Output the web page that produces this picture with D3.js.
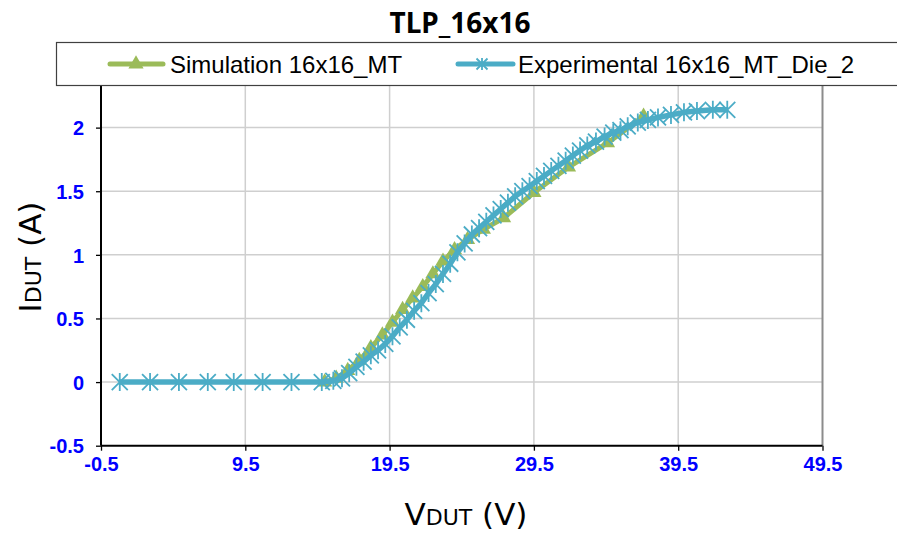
<!DOCTYPE html>
<html>
<head>
<meta charset="utf-8">
<script src="https://cdn.jsdelivr.net/npm/d3@7"></script>
<style>
  body { margin: 0; background: #fff; }
  svg { display: block; }
</style>
</head>
<body>
<div id="chart"></div>
<script>
// values
var simV = [15.0, 15.8, 16.6, 17.4, 18.2, 19.0, 19.7, 20.4, 21.1, 21.8, 22.5, 23.2, 24.0, 24.9, 26.0, 27.4, 29.5, 31.9, 34.6, 37.1];
var simI = [0, 0.03, 0.09, 0.17, 0.27, 0.37, 0.47, 0.57, 0.66, 0.75, 0.85, 0.95, 1.04, 1.12, 1.20, 1.29, 1.49, 1.69, 1.88, 2.09];

var expV = [0.8, 2.9, 4.9, 6.9, 8.7, 10.7, 12.7, 14.8,
            15.6, 16.2, 16.7, 17.2, 17.7, 18.2, 18.7, 19.2, 19.7, 20.2, 20.7, 21.2, 21.7, 22.2, 22.7, 23.2, 23.7,
            24.2, 24.7, 25.2, 25.7, 26.2, 26.7, 27.2, 27.7, 28.2, 28.7, 29.2, 29.7, 30.2, 30.7, 31.2, 31.7,
            32.2, 32.7, 33.2, 33.8, 34.4, 35.0, 35.5, 36.0, 36.7, 37.4, 38.1, 39.0, 39.9, 40.8, 41.9, 42.9];
var expI = [0, 0, 0, 0, 0, 0, 0, 0,
            0.01, 0.03, 0.07, 0.12, 0.16, 0.21, 0.25, 0.30, 0.36, 0.43, 0.49, 0.56, 0.62, 0.70, 0.77, 0.85, 0.93,
            1.02, 1.09, 1.16, 1.21, 1.26, 1.31, 1.36, 1.41, 1.46, 1.50, 1.54, 1.58, 1.62, 1.66, 1.70, 1.74,
            1.78, 1.82, 1.86, 1.89, 1.93, 1.96, 1.98, 2.01, 2.04, 2.06, 2.08, 2.10, 2.12, 2.13, 2.14, 2.14];

var xTicks = [-0.5, 9.5, 19.5, 29.5, 39.5, 49.5];
var yTicks = [-0.5, 0, 0.5, 1, 1.5, 2, 2.5];

var simColor = "#9BBB59";
var expColor = "#4BACC6";

var w = 897, h = 534;

var svg = d3.select("#chart").append("svg")
  .attr("width", w)
  .attr("height", h);

var xScale = d3.scaleLinear().domain([-0.5, 49.5]).range([101, 822.5]);
var yScale = d3.scaleLinear().domain([-0.5, 2.5]).range([445.7, 64]);

// gridlines
svg.append("g")
  .selectAll("line")
  .data(xTicks.slice(1, -1))
  .enter().append("line")
  .attr("x1", function(d) { return xScale(d); })
  .attr("x2", function(d) { return xScale(d); })
  .attr("y1", yScale(2.5))
  .attr("y2", yScale(-0.5))
  .attr("stroke", "#cfcfcf")
  .attr("stroke-width", 1.5);

svg.append("g")
  .selectAll("line")
  .data(yTicks.slice(1))
  .enter().append("line")
  .attr("x1", xScale(-0.5))
  .attr("x2", xScale(49.5))
  .attr("y1", function(d) { return yScale(d); })
  .attr("y2", function(d) { return yScale(d); })
  .attr("stroke", "#cfcfcf")
  .attr("stroke-width", 1.5);

// right + top border of the plot area
svg.append("line")
  .attr("x1", xScale(49.5)).attr("x2", xScale(49.5))
  .attr("y1", yScale(2.5)).attr("y2", yScale(-0.5))
  .attr("stroke", "#8c8c8c").attr("stroke-width", 2);
svg.append("line")
  .attr("x1", xScale(-0.5)).attr("x2", xScale(49.5))
  .attr("y1", yScale(2.5)).attr("y2", yScale(2.5))
  .attr("stroke", "#8c8c8c").attr("stroke-width", 2);

// axes (plain hyphen for negatives, like the original)
function fmt(d) { return String(d); }
var xAxis = d3.axisBottom(xScale).tickValues(xTicks).tickSize(5).tickFormat(function(d) { return d.toFixed(1); });
var yAxis = d3.axisLeft(yScale).tickValues(yTicks).tickSize(5).tickFormat(fmt);

var gx = svg.append("g")
  .attr("transform", "translate(0," + yScale(-0.5) + ")")
  .call(xAxis);
var gy = svg.append("g")
  .attr("transform", "translate(" + xScale(-0.5) + ",0)")
  .call(yAxis);

[gx, gy].forEach(function(g) {
  g.attr("font-size", 20).attr("font-family", "'Liberation Sans', Arial, sans-serif");
  g.select(".domain").attr("stroke", "#000").attr("stroke-width", 2);
  g.selectAll(".tick line").attr("stroke", "#000").attr("stroke-width", 1.3);
  g.selectAll(".tick text")
    .attr("fill", "#0000ff")
    .attr("font-weight", "bold");
});
gx.select(".domain").attr("d", "M" + xScale(-0.5) + ",0H" + xScale(49.5));
gy.select(".domain").attr("d", "M0," + yScale(2.5) + "V" + yScale(-0.5));
gx.selectAll(".tick text").attr("y", 11).attr("dy", "0.71em");
gy.selectAll(".tick text").attr("x", -17).attr("dy", "0.36em");

// series
var line = d3.line()
  .x(function(d) { return xScale(d[0]); })
  .y(function(d) { return yScale(d[1]); });

var simData = simV.map(function(v, i) { return [v, simI[i]]; });
var expData = expV.map(function(v, i) { return [v, expI[i]]; });

var tri = d3.symbol().type(d3.symbolTriangle).size(100);
var star = "M0,-9V9M-8,-8L8,8M8,-8L-8,8";

svg.append("path")
  .attr("d", line(simData))
  .attr("fill", "none")
  .attr("stroke", simColor)
  .attr("stroke-width", 5)
  .attr("stroke-linejoin", "round");

svg.append("g")
  .selectAll("path")
  .data(simData)
  .enter().append("path")
  .attr("transform", function(d) { return "translate(" + xScale(d[0]) + "," + yScale(d[1]) + ")"; })
  .attr("d", tri)
  .attr("fill", simColor);

svg.append("path")
  .attr("d", line(expData))
  .attr("fill", "none")
  .attr("stroke", expColor)
  .attr("stroke-width", 5.5)
  .attr("stroke-linejoin", "round");

svg.append("g")
  .selectAll("path")
  .data(expData)
  .enter().append("path")
  .attr("transform", function(d) { return "translate(" + xScale(d[0]) + "," + yScale(d[1]) + ")"; })
  .attr("d", star)
  .attr("fill", "none")
  .attr("stroke", expColor)
  .attr("stroke-width", 1.8);

// axis titles
svg.append("text")
  .attr("x", 466)
  .attr("y", 525)
  .attr("text-anchor", "middle")
  .style("font-family", "'DejaVu Sans', Verdana, sans-serif")
  .style("font-size", "31px")
  .call(function(t) {
    t.append("tspan").text("V");
    t.append("tspan").style("font-size", "22px").text("DUT");
    t.append("tspan").text(" (V)");
  });

svg.append("text")
  .attr("transform", "translate(41,257) rotate(-90)")
  .attr("text-anchor", "middle")
  .style("font-family", "'DejaVu Sans', Verdana, sans-serif")
  .style("font-size", "31px")
  .call(function(t) {
    t.append("tspan").text("I");
    t.append("tspan").style("font-size", "22px").text("DUT");
    t.append("tspan").text(" (A)");
  });

// title
svg.append("text")
  .attr("x", 460)
  .attr("y", 33)
  .attr("text-anchor", "middle")
  .style("font-family", "'Noto Sans', sans-serif")
  .style("font-weight", "bold")
  .style("font-size", "28px")
  .text("TLP_16x16");

// legend
var legend = svg.append("g");
legend.append("rect")
  .attr("x", 56.5).attr("y", 42.5)
  .attr("width", 900).attr("height", 43)
  .attr("fill", "#fff")
  .attr("stroke", "#404040")
  .attr("stroke-width", 1.2);

var legY = 64;
legend.append("line")
  .attr("x1", 110).attr("x2", 163).attr("y1", legY).attr("y2", legY)
  .attr("stroke", simColor).attr("stroke-width", 5).attr("stroke-linecap", "round");
legend.append("path")
  .attr("transform", "translate(136," + legY + ")")
  .attr("d", tri)
  .attr("fill", simColor);
legend.append("text")
  .attr("x", 170).attr("y", 73)
  .style("font-family", "'Liberation Sans', Arial, sans-serif")
  .style("font-size", "24px")
  .text("Simulation 16x16_MT");

legend.append("line")
  .attr("x1", 458).attr("x2", 513).attr("y1", legY).attr("y2", legY)
  .attr("stroke", expColor).attr("stroke-width", 5).attr("stroke-linecap", "round");
legend.append("path")
  .attr("transform", "translate(482," + legY + ")")
  .attr("d", "M0,-6V6M-5.5,-5.5L5.5,5.5M5.5,-5.5L-5.5,5.5")
  .attr("fill", "none")
  .attr("stroke", expColor)
  .attr("stroke-width", 1.8);
legend.append("text")
  .attr("x", 518).attr("y", 73)
  .style("font-family", "'Liberation Sans', Arial, sans-serif")
  .style("font-size", "24px")
  .text("Experimental 16x16_MT_Die_2");
</script>
</body>
</html>
